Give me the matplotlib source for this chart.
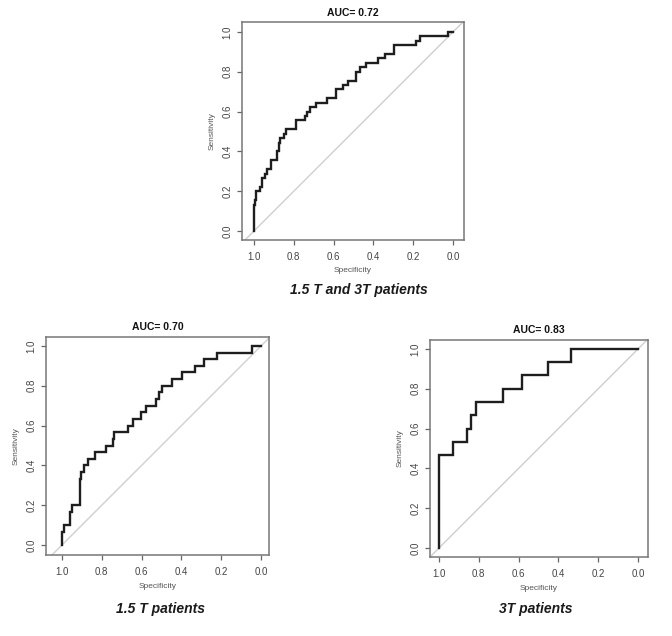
import matplotlib
matplotlib.use("Agg")
import matplotlib.pyplot as plt

# ---------- data ----------
# each curve: specificity at which a vertical step happens, and sensitivity reached
all_spec = [1.0, 0.993, 0.988, 0.972, 0.958, 0.946, 0.935, 0.913, 0.883, 0.876,
            0.868, 0.851, 0.838, 0.787, 0.745, 0.734, 0.72, 0.687, 0.633, 0.586,
            0.553, 0.528, 0.486, 0.469, 0.436, 0.377, 0.343, 0.298, 0.184, 0.168, 0.025]
all_sens = [0.13, 0.156, 0.2, 0.222, 0.267, 0.289, 0.311, 0.356, 0.40, 0.444,
            0.467, 0.489, 0.511, 0.556, 0.578, 0.60, 0.622, 0.644, 0.667, 0.711,
            0.733, 0.756, 0.80, 0.822, 0.844, 0.867, 0.889, 0.933, 0.956, 0.978, 1.0]

t15_spec = [1.0, 0.988, 0.958, 0.95, 0.911, 0.903, 0.891, 0.871, 0.836, 0.778,
            0.744, 0.736, 0.666, 0.645, 0.604, 0.579, 0.527, 0.512, 0.498, 0.445,
            0.398, 0.331, 0.286, 0.222, 0.047]
t15_sens = [0.067, 0.10, 0.167, 0.20, 0.333, 0.367, 0.40, 0.433, 0.467, 0.50,
            0.533, 0.567, 0.60, 0.633, 0.667, 0.70, 0.733, 0.767, 0.80, 0.833,
            0.867, 0.90, 0.933, 0.967, 1.0]

t3_spec = [1.0, 0.931, 0.861, 0.839, 0.814, 0.68, 0.585, 0.451, 0.337]
t3_sens = [0.467, 0.533, 0.60, 0.667, 0.733, 0.80, 0.867, 0.933, 1.0]

titles = ["AUC= 0.72", "AUC= 0.70", "AUC= 0.83"]
subtitles = ["1.5 T and 3T patients", "1.5 T patients", "3T patients"]
ticks = [0.0, 0.2, 0.4, 0.6, 0.8, 1.0]
tick_labels = ["0.0", "0.2", "0.4", "0.6", "0.8", "1.0"]

plt.rcParams['font.family'] = ['Liberation Sans', 'DejaVu Sans']

W, H = 672, 636
fig = plt.figure(figsize=(W / 100, H / 100), dpi=100)

# panel boxes in pixels: left, top, right, bottom ; data ranges
panels = [
    dict(box=(242, 22, 464, 240), xlim=(1.06, -0.055), ylim=(-0.045, 1.05),
         spec=all_spec, sens=all_sens, title_y=13, sub=(359, 290)),
    dict(box=(46, 337, 269, 555), xlim=(1.08, -0.04), ylim=(-0.05, 1.045),
         spec=t15_spec, sens=t15_sens, title_y=327, sub=(160, 609)),
    dict(box=(430, 340, 648, 557), xlim=(1.045, -0.05), ylim=(-0.045, 1.045),
         spec=t3_spec, sens=t3_sens, title_y=330, sub=(536, 609)),
]

for i, p in enumerate(panels):
    l, t, r, b = p['box']
    ax = fig.add_axes([l / W, 1 - b / H, (r - l) / W, (b - t) / H])
    ax.set_xlim(*p['xlim'])
    ax.set_ylim(*p['ylim'])
    # diagonal reference
    ax.axline((1, 0), (0, 1), color='#cfcfcf', lw=1.0, zorder=1)
    # staircase path from step data
    xs, ys = [1.0], [0.0]
    for sx, sy in zip(p['spec'], p['sens']):
        xs.append(sx); ys.append(ys[-1])
        xs.append(sx); ys.append(sy)
    xs.append(0.0); ys.append(ys[-1])
    ax.plot(xs, ys, color='#1e1e1e', lw=1.7, zorder=2, solid_joinstyle='miter')

    ax.set_xticks(ticks)
    ax.set_xticklabels(tick_labels)
    ax.set_yticks(ticks)
    ax.set_yticklabels(tick_labels, rotation=90, va='center')
    ax.tick_params(axis='both', direction='out', length=3.5, width=0.9,
                   color='#666666', labelsize=7, labelcolor='#444444')
    ax.tick_params(axis='x', pad=5)
    ax.tick_params(axis='y', pad=3.5)
    for s in ax.spines.values():
        s.set_color('#777777')
        s.set_linewidth(1.1)

    ax.set_xlabel("Specificity", fontsize=6, color='#555555')
    ax.set_ylabel("Sensitivity", fontsize=6, color='#555555')
    ax.xaxis.label.set_va('center')
    ax.yaxis.label.set_va('center')
    ax.xaxis.set_label_coords(0.5, -31 / (b - t))
    ax.yaxis.set_label_coords(-30 / (r - l), 0.5)

    ax.text(0.5, 1 + (t - p['title_y']) / (b - t), titles[i], transform=ax.transAxes,
            ha='center', va='center', fontsize=7.5, fontweight='bold', color='#111111')

    sx, sy = p['sub']
    fig.text(sx / W, 1 - sy / H, subtitles[i], ha='center', va='center',
             fontsize=10, fontweight='bold', fontstyle='italic', color='#1a1a1a')

fig.savefig("out.png", dpi=100)
